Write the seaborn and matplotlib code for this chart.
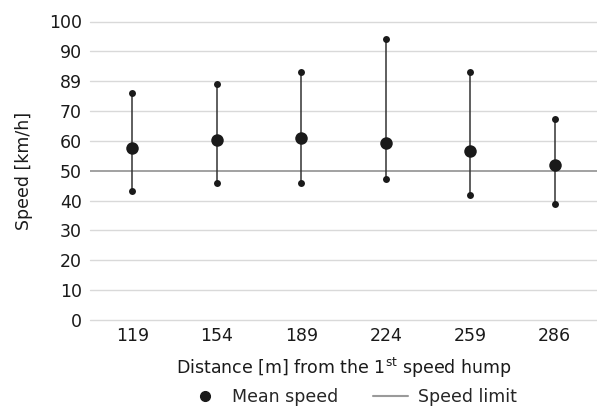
import matplotlib
matplotlib.use("Agg")
import matplotlib.pyplot as plt
import numpy as np
import pandas as pd
import seaborn as sns
from matplotlib.lines import Line2D

# values
distances = ["119", "154", "189", "224", "259", "286"]
mean_speed = [57.6, 60.2, 61.1, 59.3, 56.7, 52.0]
max_speed = [75.9, 79.0, 83.0, 94.2, 83.0, 67.2]
min_speed = [43.2, 45.8, 45.8, 47.1, 41.9, 38.9]
speed_limit = 50
y_ticks = [0, 10, 20, 30, 40, 50, 60, 70, 80, 90, 100]
y_tick_labels = ["0", "10", "20", "30", "40", "50", "60", "70", "89", "90", "100"]

sns.set_style("white")
plt.rcParams["font.family"] = ["DejaVu Sans"]
plt.rcParams["mathtext.fontset"] = "dejavusans"

FS = 12.5

df = pd.DataFrame({
    "distance": distances,
    "mean": mean_speed,
    "max": max_speed,
    "min": min_speed,
})

fig = plt.figure(figsize=(5.97, 4.09), dpi=100)
ax = fig.add_axes([90 / 597, 1 - 320 / 409, 507 / 597, (320 - 21.5) / 409])

ax.set_ylim(0, 100)
ax.set_yticks(y_ticks)
ax.set_yticklabels(y_tick_labels)
for y in y_ticks:
    if y != speed_limit:
        ax.axhline(y, color="#d9d9d9", lw=1, zorder=0, clip_on=False)
ax.axhline(speed_limit, color="#9a9a9a", lw=1.3, zorder=1)

ax.vlines(np.arange(len(distances)), df["min"], df["max"], color="#333333", lw=1.1, zorder=2)
sns.stripplot(data=df, x="distance", y="max", jitter=False, color="#1a1a1a", size=5, ax=ax, zorder=3)
sns.stripplot(data=df, x="distance", y="min", jitter=False, color="#1a1a1a", size=5, ax=ax, zorder=3)
sns.stripplot(data=df, x="distance", y="mean", jitter=False, color="#1a1a1a", size=9, ax=ax, zorder=4)

ax.set_xlim(-0.5, len(distances) - 0.5)
sns.despine(ax=ax, left=True, bottom=True)
ax.tick_params(axis="both", length=0, labelsize=FS, colors="#1a1a1a")
ax.tick_params(axis="y", pad=6)
ax.tick_params(axis="x", pad=5)
ax.set_ylabel("Speed [km/h]", fontsize=FS, color="#1a1a1a", labelpad=11)
ax.set_xlabel(r"Distance [m] from the 1$^{\mathrm{st}}$ speed hump", fontsize=FS,
              color="#1a1a1a", labelpad=8)

handles = [
    Line2D([], [], marker="o", color="#1a1a1a", ls="none", markersize=7),
    Line2D([], [], color="#9a9a9a", lw=1.5),
]
fig.legend(handles, ["Mean speed", "Speed limit"], loc="lower center",
           bbox_to_anchor=(0.59, -0.032), ncol=2, frameon=False, fontsize=FS,
           handlelength=2.0, handletextpad=0.6, columnspacing=2.0)

fig.savefig("out.png", dpi=100)
